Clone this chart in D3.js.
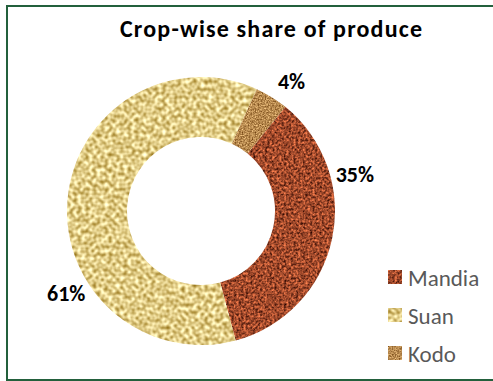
<!DOCTYPE html>
<html>
<head>
<meta charset="utf-8">
<script src="https://cdn.jsdelivr.net/npm/d3@7/dist/d3.min.js"></script>
<style>
  html, body { margin: 0; padding: 0; background: #fff; }
  svg { display: block; }
  text { font-family: Calibri, Carlito, Lato, "Open Sans", sans-serif; }
</style>
</head>
<body>
<svg id="chart" width="493" height="381"></svg>
<script>
// ---- data ----
const categories = ["Mandia", "Suan", "Kodo"];
const shares = [35, 61, 4];
const labels = ["35%", "61%", "4%"];
const title = "Crop-wise share of produce";

// ---- style / layout ----
const W = 493, H = 381;
const cx = 201, cy = 211, rOuter = 134, rInner = 74;
const startDeg = 39;
const labelFrac = [0.30, 0.335, 0.72];   // where along each slice its label sits
const labelR = 158;
const textures = [
  { id: "tex-mandia", base: [0.63, 0.29, 0.17], amp: [1.2, 0.7, 0.45], freq: 0.42, oct: 2, seed: 4 },
  { id: "tex-suan",   base: [0.88, 0.80, 0.53], amp: [0.8, 0.95, 1.2], freq: 0.26, oct: 1, seed: 7 },
  { id: "tex-kodo",   base: [0.72, 0.54, 0.31], amp: [0.8, 0.8, 0.7], freq: 0.7, oct: 2, seed: 2 }
];

const svg = d3.select("#chart");
const defs = svg.append("defs");
textures.forEach(t => {
  const f = defs.append("filter").attr("id", t.id)
    .attr("x", 0).attr("y", 0).attr("width", 1).attr("height", 1)
    .attr("color-interpolation-filters", "sRGB");
  f.append("feTurbulence").attr("type", "fractalNoise")
    .attr("baseFrequency", t.freq).attr("numOctaves", t.oct).attr("seed", t.seed).attr("result", "noise");
  const row = (i) => `${t.amp[i]} 0 0 0 ${(t.base[i] - t.amp[i] * 0.5).toFixed(3)}`;
  f.append("feColorMatrix").attr("in", "noise").attr("type", "matrix")
    .attr("values", `${row(0)} ${row(1)} ${row(2)} 0 0 0 0 1`).attr("result", "col");
  f.append("feComposite").attr("in", "col").attr("in2", "SourceGraphic").attr("operator", "in");
});

// frame
svg.append("rect").attr("x", 7).attr("y", 6).attr("width", W + 10).attr("height", 374)
  .attr("fill", "none").attr("stroke", "#23603c").attr("stroke-width", 2);

// title
svg.append("text").attr("x", 271).attr("y", 37).attr("text-anchor", "middle")
  .attr("font-size", 24).attr("font-weight", "bold").attr("fill", "#000")
  .attr("textLength", 302).attr("lengthAdjust", "spacing").text(title);

// donut
const color = d3.scaleOrdinal().domain(categories).range(["#9c4328", "#dcc67e", "#b4884a"]);
const pie = d3.pie().sort(null).value(d => d.v)
  .startAngle(startDeg * Math.PI / 180).endAngle(startDeg * Math.PI / 180 + 2 * Math.PI);
const data = categories.map((c, i) => ({ c, v: shares[i], label: labels[i], i }));
const arcs = pie(data);
const arc = d3.arc().innerRadius(rInner).outerRadius(rOuter);

const g = svg.append("g").attr("transform", `translate(${cx},${cy})`);
g.selectAll("path.slice").data(arcs).enter().append("path")
  .attr("class", "slice")
  .attr("d", arc)
  .attr("fill", d => color(d.data.c))
  .attr("filter", d => `url(#${textures[d.data.i].id})`);

// labels
g.selectAll("text.lbl").data(arcs).enter().append("text")
  .attr("class", "lbl")
  .attr("transform", d => {
    const a = d.startAngle + (d.endAngle - d.startAngle) * labelFrac[d.data.i];
    return `translate(${labelR * Math.sin(a)},${-labelR * Math.cos(a)})`;
  })
  .attr("text-anchor", "middle").attr("dominant-baseline", "central")
  .attr("font-size", 22).attr("font-weight", "bold").attr("fill", "#000")
  .text(d => d.data.label);

// legend
const legY = d3.scalePoint().domain(categories).range([277, 353]);
const leg = svg.append("g");
const items = leg.selectAll("g").data(data).enter().append("g")
  .attr("transform", d => `translate(388,${legY(d.c)})`);
items.append("rect").attr("x", 0).attr("y", -7).attr("width", 14).attr("height", 14)
  .attr("fill", d => color(d.c))
  .attr("filter", d => `url(#${textures[d.i].id})`);
items.append("text").attr("x", 20).attr("y", 1).attr("dominant-baseline", "central")
  .attr("font-size", 23).attr("fill", "#595959").text(d => d.c);
</script>
</body>
</html>
